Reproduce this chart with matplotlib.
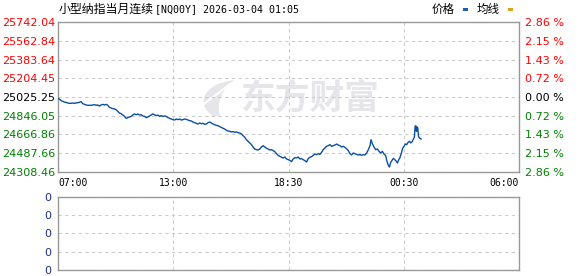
import matplotlib
matplotlib.use('Agg')
import numpy as np
import matplotlib.pyplot as plt
from matplotlib.patches import Rectangle, PathPatch
from matplotlib.path import Path

plt.rcParams['font.family'] = ['DejaVu Sans', 'Noto Sans CJK SC']

# minutes since 07:00 and price
minutes = [2, 6, 10, 14, 19, 24, 29, 34, 39, 44, 49, 54, 59, 64, 69, 74, 79, 84, 89, 94,
           99, 104, 109, 114, 119, 124, 129, 134, 139, 144, 149, 154, 159, 164, 169, 174, 179, 184, 189, 194,
           199, 204, 209, 214, 219, 224, 229, 234, 239, 244, 249, 254, 259, 264, 269, 274, 279, 284, 289, 294,
           299, 304, 309, 314, 319, 324, 329, 334, 339, 344, 349, 354, 359, 364, 369, 374, 379, 384, 389, 394,
           399, 404, 409, 414, 419, 424, 429, 434, 439, 444, 449, 454, 459, 464, 469, 474, 479, 484, 489, 494,
           499, 504, 509, 514, 519, 524, 529, 534, 539, 544, 549, 554, 559, 564, 569, 574, 579, 584, 589, 594,
           599, 604, 609, 614, 619, 624, 629, 634, 639, 644, 649, 654, 659, 664, 669, 674, 679, 684, 689, 694,
           699, 704, 709, 714, 719, 724, 729, 734, 739, 744, 749, 754, 759, 764, 769, 774, 779, 784, 789, 794,
           799, 804, 809, 814, 819, 824, 829, 834, 839, 844, 849, 854, 859, 864, 869, 874, 879, 884, 889, 894,
           899, 904, 909, 914, 919, 924, 929, 934, 937, 941, 946, 951, 956, 961, 966, 971, 976, 981, 984, 988,
           992, 996, 1000, 1004, 1008, 1012, 1016, 1020, 1024, 1028, 1032, 1036, 1040, 1044, 1048, 1052, 1056, 1060, 1064, 1067,
           1069, 1071, 1073, 1075, 1077, 1079, 1082, 1087]
prices = [25009, 25000, 24990, 24984, 24977, 24974, 24968, 24965, 24965, 24968, 24965, 24968, 24971, 24974, 24981, 24962, 24955, 24949, 24946, 24946,
          24946, 24949, 24952, 24946, 24949, 24939, 24949, 24955, 24949, 24955, 24946, 24926, 24920, 24914, 24911, 24904, 24888, 24872, 24866, 24853,
          24840, 24821, 24828, 24834, 24840, 24853, 24863, 24856, 24863, 24853, 24856, 24844, 24840, 24828, 24834, 24844, 24853, 24863, 24856, 24847,
          24853, 24840, 24847, 24840, 24844, 24840, 24828, 24821, 24815, 24809, 24805, 24815, 24809, 24815, 24805, 24809, 24815, 24812, 24805, 24799,
          24796, 24786, 24780, 24774, 24767, 24777, 24770, 24774, 24764, 24767, 24780, 24786, 24777, 24767, 24761, 24754, 24751, 24742, 24735, 24726,
          24719, 24707, 24700, 24697, 24691, 24694, 24688, 24691, 24684, 24681, 24672, 24656, 24640, 24617, 24602, 24586, 24570, 24547, 24528, 24522,
          24519, 24528, 24547, 24560, 24547, 24535, 24528, 24519, 24522, 24512, 24503, 24484, 24468, 24458, 24449, 24442, 24452, 24433, 24426, 24420,
          24407, 24433, 24445, 24442, 24452, 24433, 24436, 24426, 24417, 24404, 24436, 24449, 24455, 24468, 24480, 24474, 24484, 24477, 24496, 24522,
          24538, 24554, 24560, 24570, 24554, 24560, 24566, 24576, 24566, 24560, 24547, 24554, 24544, 24531, 24512, 24484, 24471, 24490, 24484, 24477,
          24471, 24474, 24468, 24474, 24471, 24490, 24522, 24560, 24617, 24579, 24547, 24522, 24528, 24506, 24490, 24506, 24480, 24465, 24420, 24378,
          24356, 24401, 24420, 24439, 24426, 24414, 24394, 24426, 24449, 24490, 24538, 24554, 24576, 24570, 24592, 24602, 24586, 24598, 24624, 24643,
          24745, 24751, 24697, 24739, 24729, 24649, 24633, 24624]

price_ticks = [25742.04, 25562.84, 25383.64, 25204.45, 25025.25, 24846.05, 24666.86, 24487.66, 24308.46]
pct_labels = ['2.86 %', '2.15 %', '1.43 %', '0.72 %', '0.00 %', '0.72 %', '1.43 %', '2.15 %', '2.86 %']
tick_colors = ['#ff0000'] * 4 + ['#000000'] + ['#008000'] * 4
time_labels = ['07:00', '13:00', '18:30', '00:30', '06:00']
vol_labels = ['0', '0', '0', '0', '0']
session_minutes = 1380

title_name = '小型纳指当月连续'
title_code = '[NQ00Y] 2026-03-04 01:05'
cjk = ['Noto Sans CJK SC', 'DejaVu Sans']
W, H = 578, 276
grid_kw = dict(color='#cccccc', linestyle=(0, (3, 3)), linewidth=0.8)


def fx(px):
    return px / W


def fy(py):
    return 1 - py / H


fig = plt.figure(figsize=(W / 100, H / 100), dpi=100)

# main price panel
ax = fig.add_axes([fx(58), fy(172), 461 / W, 150 / H])
ax.set_axisbelow(True)
ax.plot(minutes, prices, color='#0b4fa2', linewidth=1.0, zorder=3)
ax.set_xlim(0, session_minutes)
ax.set_ylim(price_ticks[-1], price_ticks[0])
grid_x = np.linspace(0, session_minutes, len(time_labels))
ax.set_xticks(grid_x)
ax.set_xticklabels(time_labels, fontfamily='DejaVu Sans Mono', fontsize=7)
xl = ax.get_xticklabels()
xl[0].set_ha('left')
xl[-1].set_ha('right')
ax.set_yticks(price_ticks)
ax.set_yticklabels(['%.2f' % v for v in price_ticks], fontsize=8)
for lab, c in zip(ax.get_yticklabels(), tick_colors):
    lab.set_color(c)
ax.tick_params(length=0, pad=2)
ax.tick_params(axis='x', pad=4)
ax.grid(True, **grid_kw)
for s in ax.spines.values():
    s.set_color('#999999')
    s.set_linewidth(1)

ax2 = ax.twinx()
ax2.set_ylim(price_ticks[-1], price_ticks[0])
ax2.set_yticks(price_ticks)
ax2.set_yticklabels(pct_labels, fontsize=8)
for lab, c in zip(ax2.get_yticklabels(), tick_colors):
    lab.set_color(c)
ax2.tick_params(length=0, pad=4)
for s in ax2.spines.values():
    s.set_visible(False)

# watermark: logo mark + text
wm = '#e6e6ea'
logo = Path([(fx(213), fy(116)), (fx(195), fy(104)), (fx(203), fy(84)), (fx(234), fy(80)),
             (fx(222), fy(90)), (fx(216), fy(102)), (fx(220), fy(116)), (fx(213), fy(116))],
            [Path.MOVETO, Path.CURVE4, Path.CURVE4, Path.CURVE4,
             Path.CURVE4, Path.CURVE4, Path.CURVE4, Path.CLOSEPOLY])
ax.add_patch(PathPatch(logo, transform=fig.transFigure, facecolor=wm, edgecolor='none', zorder=0.1))
ax.plot([fx(204), fx(230)], [fy(104), fy(84)], transform=fig.transFigure, color='white', lw=1.5, zorder=0.2)
ax.text(fx(310), fy(98), '东方财富', transform=fig.transFigure, fontsize=25,
        fontweight='bold', color=wm, family=cjk, ha='center', va='center', zorder=0.1)

# volume panel
axv = fig.add_axes([fx(58), fy(270), 461 / W, 73.3 / H])
axv.set_axisbelow(True)
axv.set_xlim(0, session_minutes)
axv.set_xticks(grid_x)
axv.set_xticklabels([])
axv.set_ylim(0, len(vol_labels) - 1)
axv.set_yticks(range(len(vol_labels)))
axv.set_yticklabels(vol_labels[::-1], fontsize=8, color='#1c2f8a')
axv.tick_params(length=0, pad=5)
axv.grid(True, **grid_kw)
for s in axv.spines.values():
    s.set_color('#999999')
    s.set_linewidth(1)

# header
fig.text(fx(59), fy(9), title_name, fontsize=8.6, family=cjk, va='center', ha='left')
fig.text(fx(155), fy(9), title_code, fontsize=7.2, family='DejaVu Sans Mono', va='center', ha='left')
fig.text(fx(432), fy(9), '价格', fontsize=8.3, family=cjk, va='center', ha='left')
fig.add_artist(Rectangle((fx(463), fy(11)), 5 / W, 3 / H, transform=fig.transFigure,
                         color='#1a5fb4', lw=0))
fig.text(fx(477), fy(9), '均线', fontsize=8.3, family=cjk, va='center', ha='left')
fig.add_artist(Rectangle((fx(508), fy(11)), 5 / W, 3 / H, transform=fig.transFigure,
                         color='#e0a020', lw=0))

fig.savefig('out.png', dpi=100)
